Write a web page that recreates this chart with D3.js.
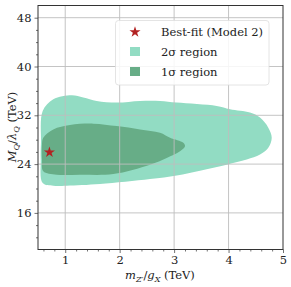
<!DOCTYPE html>
<html><head><meta charset="utf-8">
<script src="https://cdn.jsdelivr.net/npm/d3@7"></script>
<style>body{margin:0;background:#fff}svg{display:block}text{font-family:"DejaVu Serif",serif;}</style>
</head><body><svg id="c" width="291" height="287"></svg>
<script>
const xTicks=[1,2,3,4,5];
const yTicks=[16,24,32,40,48];
const region2X=[0.586,0.781,1.119,1.332,1.578,1.946,2.374,2.741,3.048,3.782,4.027,4.394,4.578,4.730,4.793,4.730,4.578,4.334,3.966,3.476,3.048,2.557,1.639,1.027,0.781,0.586,0.550,0.555];
const region2Y=[32.7,34.64,35.3,34.92,34.36,34.09,34.36,34.36,34.09,33.53,32.99,32.44,31.62,29.97,28.32,26.67,25.56,24.74,23.91,22.92,22.15,21.55,20.73,20.45,20.45,20.89,24.74,27.54];
const region1X=[0.597,0.781,1.088,1.516,1.946,2.374,2.741,2.925,3.169,3.200,3.108,2.864,2.557,1.883,1.271,0.843,0.597,0.573,0.573];
const region1Y=[28.32,29.69,30.40,30.63,30.23,29.69,29.14,28.32,27.49,26.93,26.11,25.02,23.91,22.38,22.26,22.26,22.81,24.74,27.21];
const bestX=[0.71], bestY=[25.95];
const legendLabels=["Best-fit (Model 2)","2σ region","1σ region"];

const svg=d3.select("#c");
const L=38,R=283,T=5.5,B=249.5;
const x=d3.scaleLinear().domain([0.5,5]).range([L,R]);
const y=d3.scaleLinear().domain([10,50]).range([B,T]);
const c2="#92dcc3", c1="#67ad87";
const FS=11.5;

const line=d3.line().x(d=>x(d[0])).y(d=>y(d[1])).curve(d3.curveCatmullRomClosed.alpha(0.5));
svg.append("path").attr("d",line(region2X.map((v,i)=>[v,region2Y[i]]))).attr("fill",c2);
svg.append("path").attr("d",line(region1X.map((v,i)=>[v,region1Y[i]]))).attr("fill",c1);

// grid
const g=svg.append("g");
xTicks.forEach(t=>{ if(t<5) g.append("line").attr("x1",x(t)).attr("x2",x(t)).attr("y1",T).attr("y2",B).attr("stroke","#bdbdbd").attr("stroke-width",0.9);});
yTicks.forEach(t=>g.append("line").attr("x1",L).attr("x2",R).attr("y1",y(t)).attr("y2",y(t)).attr("stroke","#bdbdbd").attr("stroke-width",0.9));

// star
const star=d3.symbol().type(d3.symbolStar).size(38);
svg.append("path").attr("d",star()).attr("transform",`translate(${x(bestX[0])},${y(bestY[0])})`).attr("fill","#b22222");

// axes
const xa=svg.append("g").attr("transform",`translate(0,${B})`).call(d3.axisBottom(x).tickValues(xTicks).tickFormat(d3.format("d")).tickSize(3.5).tickPadding(2.5));
const xm=svg.append("g").attr("transform",`translate(0,${B})`).call(d3.axisBottom(x).tickValues(d3.range(0.6,5,0.2).filter(v=>Math.abs(v-Math.round(v))>0.01)).tickFormat("").tickSize(2));
const ya=svg.append("g").attr("transform",`translate(${L},0)`).call(d3.axisLeft(y).tickValues(yTicks).tickFormat(d3.format("d")).tickSize(3.5).tickPadding(3));
const ym=svg.append("g").attr("transform",`translate(${L},0)`).call(d3.axisLeft(y).tickValues(d3.range(12,50,2).filter(v=>v%8!==0)).tickFormat("").tickSize(2));
[xa,xm,ya,ym].forEach(a=>{a.attr("font-family",null);a.select(".domain").remove();a.selectAll("line").attr("stroke","#333").attr("stroke-width",0.7);a.selectAll("text").attr("font-size",FS).attr("fill","#222");});
svg.append("rect").attr("x",L).attr("y",T).attr("width",R-L).attr("height",B-T).attr("fill","none").attr("stroke","#333").attr("stroke-width",1);

// axis labels
const xl=svg.append("text").attr("x",160).attr("y",279).attr("text-anchor","middle").attr("font-size",FS).attr("fill","#222");
xl.append("tspan").attr("font-style","italic").text("m");
xl.append("tspan").attr("font-style","italic").attr("font-size",8).attr("dy",2.5).text("Z′");
xl.append("tspan").attr("dy",-2.5).text("/");
xl.append("tspan").attr("font-style","italic").text("g");
xl.append("tspan").attr("font-style","italic").attr("font-size",8).attr("dy",2.5).text("X");
xl.append("tspan").attr("dy",-2.5).text(" (TeV)");

const yl=svg.append("text").attr("transform","translate(16,127) rotate(-90)").attr("text-anchor","middle").attr("font-size",FS).attr("fill","#222");
yl.append("tspan").attr("font-style","italic").text("M");
yl.append("tspan").attr("font-style","italic").attr("font-size",8).attr("dy",2.5).text("Q");
yl.append("tspan").attr("dy",-2.5).text("/");
yl.append("tspan").attr("font-style","italic").text("λ");
yl.append("tspan").attr("font-style","italic").attr("font-size",8).attr("dy",2.5).text("Q");
yl.append("tspan").attr("dy",-2.5).text(" (TeV)");

// legend
const lg=svg.append("g");
lg.append("rect").attr("x",115.5).attr("y",20.5).attr("width",153.5).attr("height",64.5).attr("rx",3).attr("fill","#fff").attr("fill-opacity",0.85).attr("stroke","#ddd").attr("stroke-width",0.8);
lg.append("path").attr("d",star()).attr("transform","translate(135,32)").attr("fill","#b22222");
lg.append("rect").attr("x",130).attr("y",47).attr("width",10).attr("height",9).attr("fill",c2);
lg.append("rect").attr("x",130).attr("y",67).attr("width",10).attr("height",9).attr("fill",c1);
legendLabels.forEach((t,i)=>lg.append("text").attr("x",161).attr("y",36+i*20).attr("font-size",FS).attr("fill","#222").text(t));
</script></body></html>
